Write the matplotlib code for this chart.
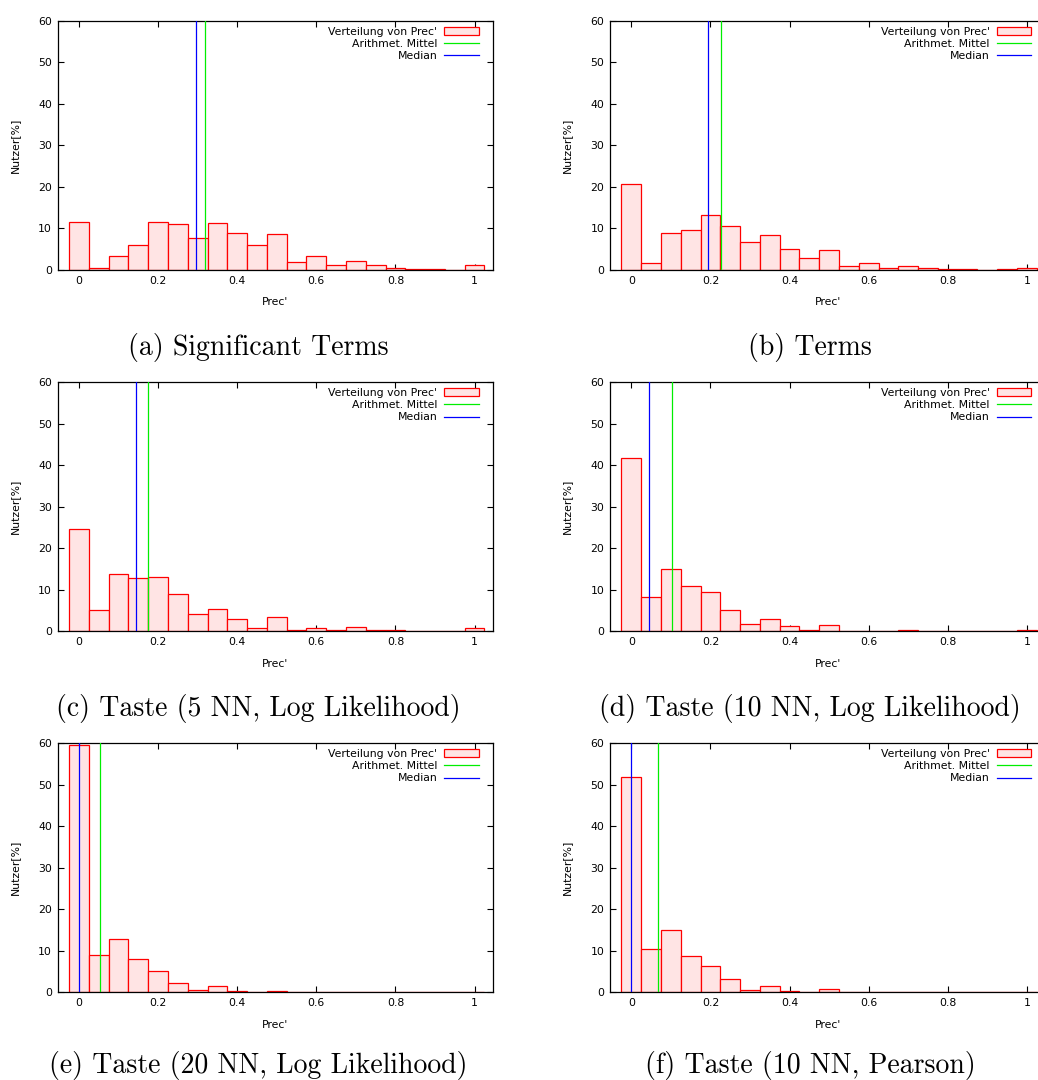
import matplotlib
matplotlib.use("Agg")
import matplotlib.pyplot as plt
import numpy as np

# Prec' bins (centre of each 0.05 wide class)
prec_bins = [0.0, 0.05, 0.1, 0.15, 0.2, 0.25, 0.3, 0.35, 0.4, 0.45, 0.5,
             0.55, 0.6, 0.65, 0.7, 0.75, 0.8, 0.85, 0.9, 0.95, 1.0]

# Nutzer[%] per bin
sig_terms = [11.6, 0.4, 3.4, 5.9, 11.6, 11.1, 7.8, 11.3, 8.8, 5.9, 8.6,
             2.0, 3.4, 1.1, 2.1, 1.3, 0.6, 0.3, 0.15, 0.1, 1.3]
terms = [20.6, 1.8, 9.0, 9.7, 13.3, 10.7, 6.7, 8.5, 5.1, 3.0, 4.7,
         1.0, 1.7, 0.6, 1.0, 0.6, 0.3, 0.15, 0.1, 0.15, 0.6]
taste5_ll = [24.7, 5.1, 13.8, 12.9, 13.1, 9.0, 4.2, 5.4, 3.0, 0.9, 3.5,
             0.2, 0.8, 0.2, 1.0, 0.4, 0.2, 0.1, 0.1, 0.0, 0.9]
taste10_ll = [41.8, 8.2, 15.0, 10.8, 9.5, 5.2, 1.8, 2.9, 1.3, 0.25, 1.4,
              0.1, 0.15, 0.0, 0.3, 0.15, 0.1, 0.0, 0.0, 0.0, 0.3]
taste20_ll = [59.4, 9.0, 12.9, 7.9, 5.2, 2.2, 0.6, 1.4, 0.3, 0.1, 0.3,
              0.0, 0.05, 0.0, 0.05, 0.05, 0.0, 0.0, 0.0, 0.0, 0.15]
taste10_pearson = [51.9, 10.4, 15.1, 8.8, 6.3, 3.1, 0.6, 1.6, 0.3, 0.0, 0.8,
                   0.0, 0.08, 0.0, 0.08, 0.0, 0.0, 0.0, 0.0, 0.0, 0.1]

means = [0.318, 0.227, 0.175, 0.103, 0.054, 0.067]
medians = [0.296, 0.195, 0.145, 0.045, 0.0, 0.0]

captions = ["(a) Significant Terms", "(b) Terms",
            "(c) Taste (5 NN, Log Likelihood)", "(d) Taste (10 NN, Log Likelihood)",
            "(e) Taste (20 NN, Log Likelihood)", "(f) Taste (10 NN, Pearson)"]

xticks = [0, 0.2, 0.4, 0.6, 0.8, 1.0]
xtick_labels = ['0', '0.2', '0.4', '0.6', '0.8', '1']
yticks = [0, 10, 20, 30, 40, 50, 60]

series = [sig_terms, terms, taste5_ll, taste10_ll, taste20_ll, taste10_pearson]

W, H = 1038, 1080
fig = plt.figure(figsize=(W / 100, H / 100), dpi=100)

fs = 7.8
col_left = [57.7, 610.0]
row_top = [20.7, 382.0, 743.0]
cap_offset = [77, 77, 73]
ax_w, ax_h = 435.0, 249.3
cap_x = [258, 810]

for i, values in enumerate(series):
    r, c = divmod(i, 2)
    left = col_left[c] / W
    bottom = 1 - (row_top[r] + ax_h) / H
    ax = fig.add_axes([left, bottom, ax_w / W, ax_h / H])

    bars = ax.bar(prec_bins, values, width=0.05, color='#ffe4e4',
                  edgecolor='#ff0000', linewidth=0.9,
                  label="Verteilung von Prec'", zorder=2)
    mean_line = ax.axvline(means[i], color='#00ee00', linewidth=0.9,
                           label='Arithmet. Mittel', zorder=3)
    median_line = ax.axvline(medians[i], color='#0000ff', linewidth=0.9,
                             label='Median', zorder=3)

    ax.set_xlim(-0.054, 1.046)
    ax.set_ylim(0, 60)
    ax.set_xticks(xticks)
    ax.set_xticklabels(xtick_labels)
    ax.set_yticks(yticks)
    ax.tick_params(direction='in', length=4.3, width=0.8, labelsize=fs,
                   top=True, right=True, pad=4)
    for s in ax.spines.values():
        s.set_linewidth(0.9)

    ax.set_xlabel("Prec'", fontsize=fs)
    ax.xaxis.set_label_coords(0.5, -0.11)
    ax.set_ylabel("Nutzer[%]", fontsize=fs)
    ax.yaxis.set_label_coords(-0.087, 0.5)

    ax.legend(handles=[bars, mean_line, median_line],
              loc='upper right', bbox_to_anchor=(0.9685, 0.976),
              frameon=False, markerfirst=False, fontsize=fs,
              handlelength=3.2, handletextpad=0.65, labelspacing=0.2,
              borderpad=0, borderaxespad=0)

    fig.text(cap_x[c] / W, 1 - (row_top[r] + ax_h + cap_offset[r]) / H,
             captions[i], ha='center', va='center', fontsize=20,
             fontfamily='cmr10')

fig.savefig("out.png", dpi=100)
